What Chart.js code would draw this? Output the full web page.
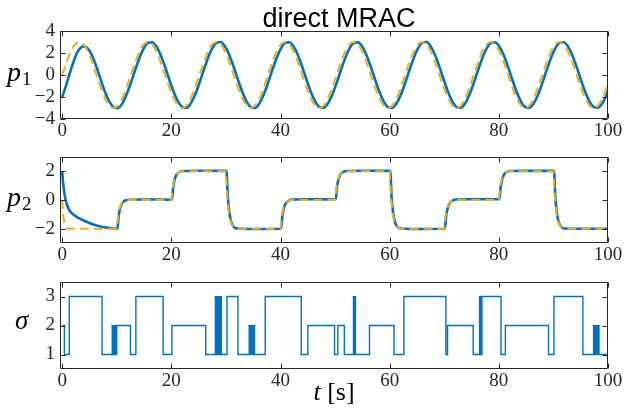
<!DOCTYPE html>
<html><head><meta charset="utf-8">
<script src="https://cdn.jsdelivr.net/npm/chart.js@4/dist/chart.umd.min.js"></script>
<style>
html,body{margin:0;padding:0;background:#fff;}
#wrap{position:relative;width:625px;height:409px;}
canvas{position:absolute;left:0;top:0;}
</style></head>
<body><div id="wrap">
<canvas id="c1" width="625" height="409"></canvas>
<canvas id="c2" width="625" height="409"></canvas>
<canvas id="c3" width="625" height="409"></canvas>
</div>
<script>
// ---------- data ----------
const xTicks = [0, 20, 40, 60, 80, 100];
const yTicksP1 = [-4, -2, 0, 2, 4];
const yTicksP2 = [-2, 0, 2];
const yTicksSig = [1, 2, 3];

// p1: sample times [s]
const tP1 = [0,0.79,1.57,2.36,3.14,3.93,4.71,5.50,6.28,7.07,7.85,8.64,9.42,10.21,11.00,11.78,
12.57,13.35,14.14,14.92,15.71,16.49,17.28,18.06,18.85,19.63,20.42,21.21,21.99,22.78,23.56,24.35,
25.13,25.92,26.70,27.49,28.27,29.06,29.85,30.63,31.42,32.20,32.99,33.77,34.56,35.34,36.13,36.91,
37.70,38.48,39.27,40.06,40.84,41.63,42.41,43.20,43.98,44.77,45.55,46.34,47.12,47.91,48.69,49.48,
50.27,51.05,51.84,52.62,53.41,54.19,54.98,55.76,56.55,57.33,58.12,58.90,59.69,60.48,61.26,62.05,
62.83,63.62,64.40,65.19,65.97,66.76,67.54,68.33,69.12,69.90,70.69,71.47,72.26,73.04,73.83,74.61,
75.40,76.18,76.97,77.75,78.54,79.33,80.11,80.90,81.68,82.47,83.25,84.04,84.82,85.61,86.39,87.18,
87.96,88.75,89.54,90.32,91.11,91.89,92.68,93.46,94.25,95.03,95.82,96.60,97.39,98.17,98.96,99.75,100];
// p1 reference (orange dashed)
const refP1 = [0,1.15,2.12,2.77,3.00,2.77,2.12,1.15,0,-1.15,-2.12,-2.77,-3.00,-2.77,-2.12,-1.15,
0,1.15,2.12,2.77,3.00,2.77,2.12,1.15,0,-1.15,-2.12,-2.77,-3.00,-2.77,-2.12,-1.15,
0,1.15,2.12,2.77,3.00,2.77,2.12,1.15,0,-1.15,-2.12,-2.77,-3.00,-2.77,-2.12,-1.15,
0,1.15,2.12,2.77,3.00,2.77,2.12,1.15,0,-1.15,-2.12,-2.77,-3.00,-2.77,-2.12,-1.15,
0,1.15,2.12,2.77,3.00,2.77,2.12,1.15,0,-1.15,-2.12,-2.77,-3.00,-2.77,-2.12,-1.15,
0,1.15,2.12,2.77,3.00,2.77,2.12,1.15,0,-1.15,-2.12,-2.77,-3.00,-2.77,-2.12,-1.15,
0,1.15,2.12,2.77,3.00,2.77,2.12,1.15,0,-1.15,-2.12,-2.77,-3.00,-2.77,-2.12,-1.15,
0,1.15,2.12,2.77,3.00,2.77,2.12,1.15,0,-1.15,-2.12,-2.77,-3.00,-2.77,-2.12,-1.15,-0.79];
// p1 output (blue)
const outP1 = [-2.00,-0.85,0.45,1.60,2.35,2.60,2.40,1.75,0.74,-0.43,-1.55,-2.42,-2.93,-3.02,-2.60,-1.80,
-0.74,0.43,1.53,2.40,2.92,2.98,2.58,1.80,0.74,-0.43,-1.53,-2.40,-2.91,-2.98,-2.58,-1.80,
-0.74,0.43,1.53,2.41,2.93,3.00,2.58,1.80,0.74,-0.43,-1.53,-2.40,-2.92,-2.99,-2.58,-1.80,
-0.74,0.43,1.53,2.40,2.92,2.98,2.58,1.80,0.74,-0.43,-1.53,-2.40,-2.91,-2.97,-2.58,-1.80,
-0.74,0.43,1.53,2.40,2.91,2.97,2.58,1.80,0.74,-0.43,-1.53,-2.40,-2.92,-2.99,-2.58,-1.80,
-0.74,0.43,1.53,2.41,2.94,3.00,2.58,1.80,0.74,-0.43,-1.53,-2.40,-2.92,-2.98,-2.58,-1.80,
-0.74,0.43,1.53,2.40,2.91,2.97,2.58,1.80,0.74,-0.43,-1.53,-2.40,-2.91,-2.97,-2.58,-1.80,
-0.74,0.43,1.53,2.40,2.92,2.98,2.58,1.80,0.74,-0.43,-1.53,-2.40,-2.91,-2.97,-2.58,-1.80,-1.48];

// p2 reference (orange dashed)
const tRefP2 = [0,0.2,0.4,0.7,1.0,
10,10.25,10.5,10.75,11,11.5,12,
20,20.25,20.5,20.75,21,21.5,22,
30,30.25,30.5,30.75,31,31.5,32,
40,40.25,40.5,40.75,41,41.5,42,
50,50.25,50.5,50.75,51,51.5,52,
60,60.25,60.5,60.75,61,61.5,62,
70,70.25,70.5,70.75,71,71.5,72,
80,80.25,80.5,80.75,81,81.5,82,
90,90.25,90.5,90.75,91,91.5,92,
100];
const refP2 = [0,-1.1,-1.6,-1.9,-2.0,
-2,-1.1,-0.6,-0.32,-0.16,-0.04,0,
0,0.9,1.4,1.68,1.84,1.96,2,
2,0.2,-0.8,-1.36,-1.68,-1.92,-2,
-2,-1.1,-0.6,-0.32,-0.16,-0.04,0,
0,0.9,1.4,1.68,1.84,1.96,2,
2,0.2,-0.8,-1.36,-1.68,-1.92,-2,
-2,-1.1,-0.6,-0.32,-0.16,-0.04,0,
0,0.9,1.4,1.68,1.84,1.96,2,
2,0.2,-0.8,-1.36,-1.68,-1.92,-2,
-2];
// p2 output (blue)
const tOutP2 = [0,0.2,0.4,0.6,0.9,1.3,2,3,4,5,6,7,8,9,10.1,
10.35,10.6,10.85,11.1,11.6,12.1,15,
20.1,20.35,20.6,20.85,21.1,21.6,22.1,25,
30.1,30.35,30.6,30.85,31.1,31.6,32.1,35,
40.1,40.35,40.6,40.85,41.1,41.6,42.1,45,
50.1,50.35,50.6,50.85,51.1,51.6,52.1,55,
60.1,60.35,60.6,60.85,61.1,61.6,62.1,65,
70.1,70.35,70.6,70.85,71.1,71.6,72.1,75,
80.1,80.35,80.6,80.85,81.1,81.6,82.1,85,
90.1,90.35,90.6,90.85,91.1,91.6,92.1,95,
100];
const outP2 = [2.0,1.1,0.5,0.05,-0.35,-0.7,-1.0,-1.25,-1.45,-1.6,-1.75,-1.85,-1.92,-1.97,-2.02,
-1.1,-0.6,-0.32,-0.16,-0.03,0.02,0.04,
0.02,0.92,1.42,1.7,1.85,1.97,2.02,2.04,
2.03,0.2,-0.8,-1.36,-1.68,-1.93,-1.99,-2.02,
-2.01,-1.1,-0.6,-0.32,-0.16,-0.03,0.03,0.05,
0.04,0.92,1.42,1.7,1.85,1.97,2.02,2.04,
2.03,0.2,-0.8,-1.36,-1.68,-1.93,-1.99,-2.02,
-2.01,-1.1,-0.6,-0.32,-0.16,-0.03,0.03,0.05,
0.05,0.92,1.42,1.7,1.85,1.97,2.02,2.03,
2.03,0.2,-0.8,-1.36,-1.68,-1.93,-1.99,-2.01,
-2.01];

// sigma: switching instants and new mode
const tSig = [0,0.4,1.3,7.3,10.0,12.5,13.5,18.5,20.1,26.3,30.2,32.2,37.2,43.8,45.0,49.9,50.5,51.7,56.3,60.8,62.6,70.3,70.6,75.3,76.9,80.4,81.2,89.1,90.1,95.4,100];
const sig  = [2,1,3,1,2,1,3,1,2,1,3,1,3,1,2,1,2,1,2,1,3,1,2,1,3,1,2,1,3,1,1];
// fast-switching (chattering) intervals
const chatStart = [9.0,27.9,34.1,53.2,76.3,97.2];
const chatEnd   = [10.0,29.3,35.4,53.9,76.9,98.5];
const chatTop   = [2,3,2,3,3,2];

// ---------- drawing ----------
const BLUE = '#0072BD', ORANGE = '#EDB120', AX = '#262626';
const tickFont = {family: '"Liberation Serif", serif', size: 19};
const pts = (xs, ys) => xs.map((v, i) => ({x: v, y: ys[i]}));
const minusFix = v => String(v).replace('-', '\u2212');

const decor = {
  id: 'decor',
  afterDraw(chart, args, o) {
    const {ctx, chartArea: a, scales: {x, y}} = chart;
    ctx.save();
    ctx.strokeStyle = AX; ctx.lineWidth = 1;
    const L = Math.round(a.left) + 0.5, R = Math.round(a.right) - 0.5,
          T = Math.round(a.top) + 0.5, B = Math.round(a.bottom) - 0.5;
    ctx.beginPath();
    ctx.rect(L, T, R - L, B - T);
    x.ticks.forEach(t => {
      const px = Math.round(x.getPixelForValue(t.value)) + 0.5;
      ctx.moveTo(px, B); ctx.lineTo(px, B - 5);
      ctx.moveTo(px, T); ctx.lineTo(px, T + 5);
    });
    y.ticks.forEach(t => {
      const py = Math.round(y.getPixelForValue(t.value)) + 0.5;
      ctx.moveTo(L, py); ctx.lineTo(L + 5, py);
      ctx.moveTo(R, py); ctx.lineTo(R - 5, py);
    });
    ctx.stroke();
    ctx.fillStyle = '#000';
    ctx.textBaseline = 'alphabetic';
    ctx.textAlign = 'left';
    const cy = (a.top + a.bottom) / 2, cx = (a.left + a.right) / 2;
    if (o.title) {
      ctx.font = '27px "Liberation Sans", Arial, sans-serif';
      ctx.textAlign = 'center';
      ctx.fillText(o.title, cx + 5, 27);
      ctx.textAlign = 'left';
    }
    if (o.ylab) {
      ctx.font = 'italic ' + o.ysize + 'px "Liberation Serif", serif';
      const xl = a.left + o.yx;
      ctx.fillText(o.ylab, xl, cy + o.ydy);
      if (o.sub) {
        const w = ctx.measureText(o.ylab).width;
        ctx.font = '19px "Liberation Serif", serif';
        ctx.fillText(o.sub, xl + w + 1, cy + o.ydy + 4);
      }
    }
    if (o.xlab) {
      ctx.font = 'italic 26px "Liberation Serif", serif';
      const w1 = ctx.measureText(o.xlab[0]).width;
      ctx.font = '26px "Liberation Serif", serif';
      const w2 = ctx.measureText(o.xlab[1]).width;
      const x0 = cx - (w1 + w2) / 2;
      ctx.font = 'italic 26px "Liberation Serif", serif';
      ctx.fillText(o.xlab[0], x0, 400);
      ctx.font = '26px "Liberation Serif", serif';
      ctx.fillText(o.xlab[1], x0 + w1, 400);
    }
    ctx.restore();
  }
};

function makeScales(yMin, yMax, yTicks) {
  return {
    x: {
      type: 'linear', min: -0.4, max: 100,
      afterBuildTicks: s => { s.ticks = xTicks.map(v => ({value: v})); },
      afterFit: s => { s.height = 30; },
      grid: {display: false, drawTicks: false}, border: {display: false},
      ticks: {font: tickFont, color: AX, padding: 1, maxRotation: 0, autoSkip: false}
    },
    y: {
      type: 'linear', min: yMin, max: yMax,
      afterBuildTicks: s => { s.ticks = yTicks.map(v => ({value: v})); },
      afterFit: s => { s.width = 60; },
      grid: {display: false, drawTicks: false}, border: {display: false},
      ticks: {font: tickFont, color: AX, padding: 5, autoSkip: false, callback: minusFix}
    }
  };
}

function baseOpts(pad, yMin, yMax, yTicks, deco) {
  return {
    responsive: false, animation: false, devicePixelRatio: 1,
    layout: {padding: pad},
    plugins: {legend: {display: false}, tooltip: {enabled: false}, title: {display: false}, decor: deco},
    elements: {point: {radius: 0}},
    scales: makeScales(yMin, yMax, yTicks)
  };
}

// panel 1
new Chart(document.getElementById('c1'), {
  type: 'scatter',
  data: {datasets: [
    {data: pts(tP1, refP1), showLine: true, borderColor: ORANGE, borderWidth: 2, borderDash: [9, 5], cubicInterpolationMode: 'monotone'},
    {data: pts(tP1, outP1), showLine: true, borderColor: BLUE, borderWidth: 2.6, cubicInterpolationMode: 'monotone'}
  ]},
  options: baseOpts({left: 0, right: 17, top: 31, bottom: 260}, -4, 4, yTicksP1,
    {title: 'direct MRAC', ylab: 'p', sub: '1', ysize: 28, yx: -53, ydy: 6}),
  plugins: [decor]
});

// panel 2
new Chart(document.getElementById('c2'), {
  type: 'scatter',
  data: {datasets: [
    {data: pts(tRefP2, refP2), showLine: true, borderColor: ORANGE, borderWidth: 2, borderDash: [9, 5]},
    {data: pts(tOutP2, outP2), showLine: true, borderColor: BLUE, borderWidth: 2.6, cubicInterpolationMode: 'monotone'}
  ]},
  options: baseOpts({left: 0, right: 17, top: 157, bottom: 136}, -3, 3, yTicksP2,
    {ylab: 'p', sub: '2', ysize: 28, yx: -53, ydy: 6}),
  plugins: [decor]
});

// panel 3
const sigSets = [
  {data: pts(tSig, sig), showLine: true, stepped: 'before', borderColor: BLUE, borderWidth: 1.4}
];
chatStart.forEach((s, i) => {
  sigSets.push({data: [{x: s, y: chatTop[i]}, {x: chatEnd[i], y: chatTop[i]}], showLine: true,
    borderColor: BLUE, borderWidth: 1, backgroundColor: BLUE, fill: {value: 1}});
});
new Chart(document.getElementById('c3'), {
  type: 'scatter',
  data: {datasets: sigSets},
  options: baseOpts({left: 0, right: 17, top: 282, bottom: 10}, 0.5, 3.5, yTicksSig,
    {ylab: '\u03C3', ysize: 27, yx: -45, ydy: 3, xlab: ['t', ' [s]']}),
  plugins: [decor]
});
</script>
</body></html>
